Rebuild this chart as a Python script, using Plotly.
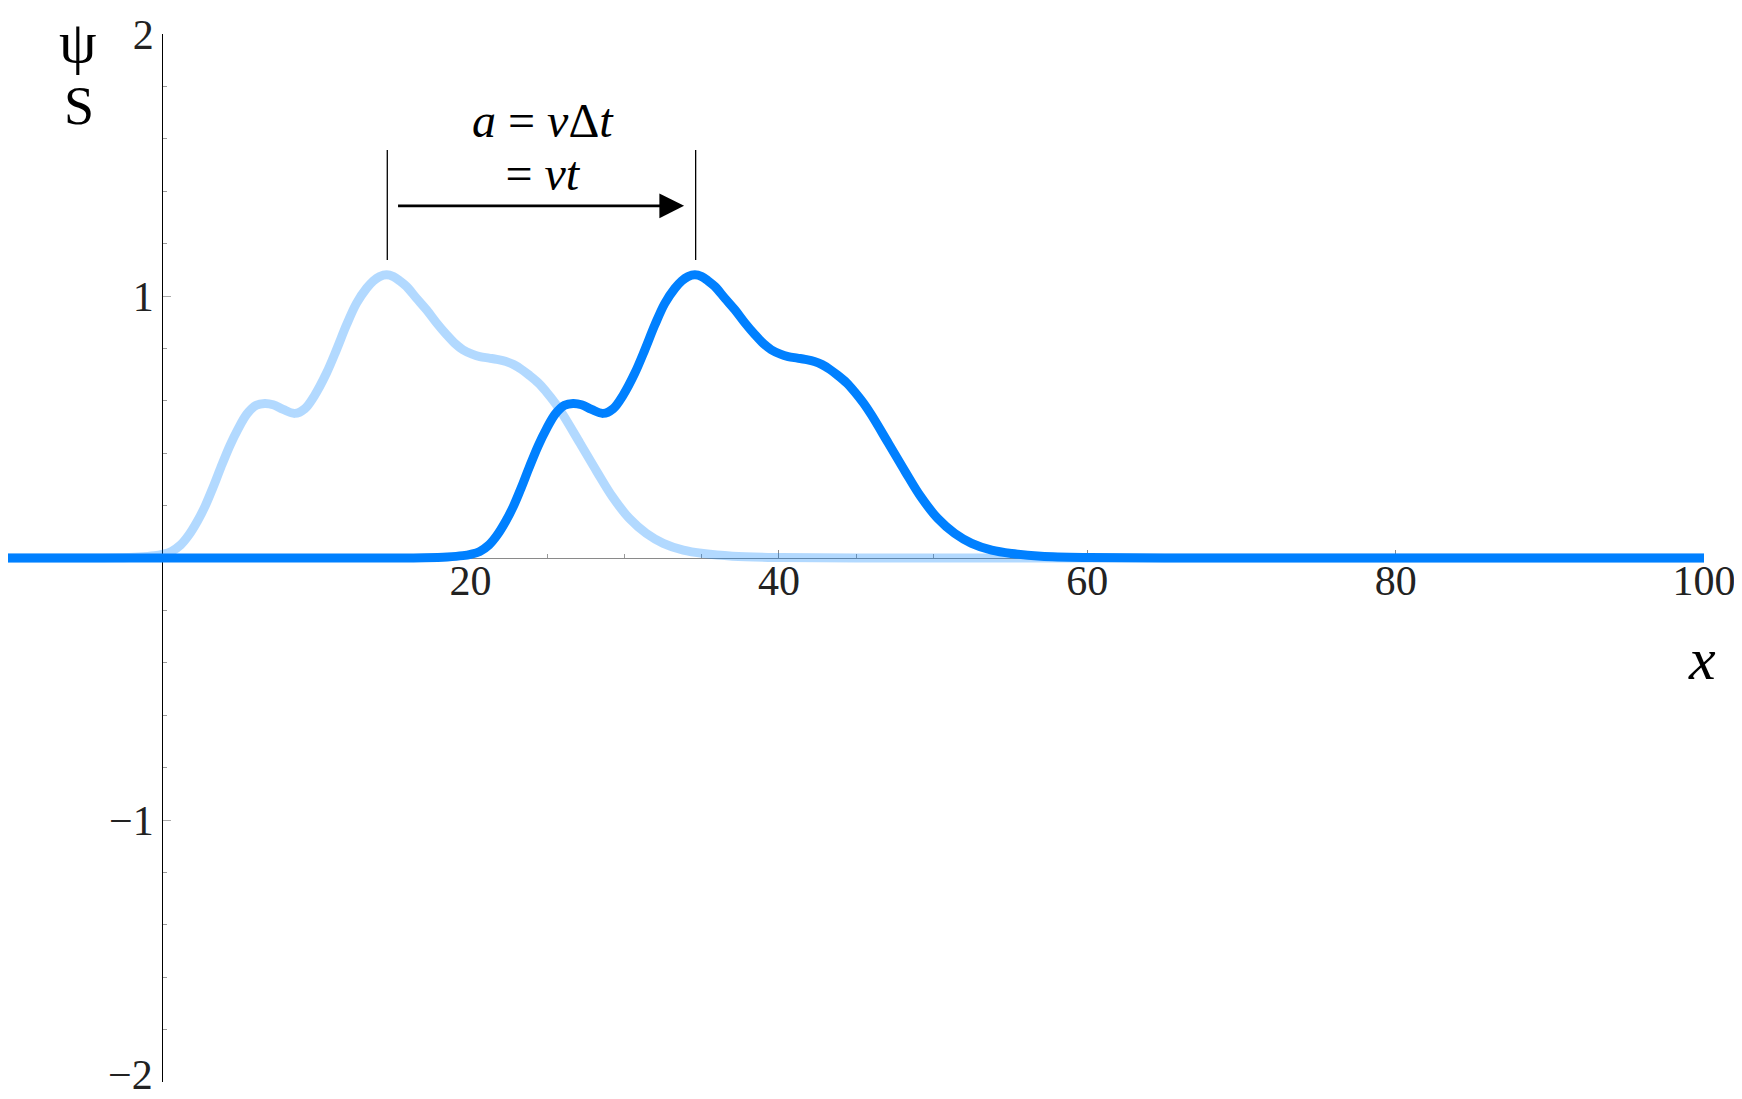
import plotly.graph_objects as go

# ---- data ----
# initial pulse (light curve)
x_initial = [-10, -6, -3, -1.5, -0.5, 0, 0.6, 1.2, 1.7, 2.3, 2.8, 3.3, 3.8, 4.4, 4.9, 5.5,
             6.1, 6.65, 7.2, 7.85, 8.6, 9.25, 9.9, 10.65, 11.3, 11.95, 12.6, 13.25, 13.7,
             14.1, 14.55, 15.0, 15.4, 15.85, 16.5, 17.15, 17.8, 18.45, 19.0, 19.5, 20.1,
             20.6, 21.2, 21.7, 22.3, 22.8, 23.3, 23.8, 24.4, 24.9, 25.5, 26.0, 27.1, 28.2,
             29.2, 30.3, 31.4, 32.5, 33.8, 35.1, 37, 40, 45, 60, 80, 100]
y_initial = [0, 0, 0.001, 0.004, 0.009, 0.014, 0.025, 0.05, 0.085, 0.142, 0.2, 0.27, 0.345,
             0.43, 0.49, 0.55, 0.583, 0.59, 0.585, 0.567, 0.552, 0.57, 0.622, 0.705, 0.794,
             0.889, 0.972, 1.029, 1.058, 1.074, 1.081, 1.074, 1.058, 1.036, 0.991, 0.947,
             0.897, 0.852, 0.818, 0.795, 0.778, 0.769, 0.763, 0.758, 0.75, 0.738, 0.72,
             0.698, 0.668, 0.635, 0.59, 0.546, 0.438, 0.329, 0.234, 0.151, 0.094, 0.056,
             0.03, 0.017, 0.007, 0.002, 0, 0, 0, 0]

# translated pulse (dark curve)
x_moved = [-10, 0, 10, 15, 17.0, 18.5, 19.5, 20.0, 20.6, 21.2, 21.7, 22.3, 22.8, 23.3,
           23.8, 24.4, 24.9, 25.5, 26.1, 26.65, 27.2, 27.85, 28.6, 29.25, 29.9, 30.65,
           31.3, 31.95, 32.6, 33.25, 33.7, 34.1, 34.55, 35.0, 35.4, 35.85, 36.5, 37.15,
           37.8, 38.45, 39.0, 39.5, 40.1, 40.6, 41.2, 41.7, 42.3, 42.8, 43.3, 43.8, 44.4,
           44.9, 45.5, 46.0, 47.1, 48.2, 49.2, 50.3, 51.4, 52.5, 53.8, 55.1, 57, 60, 65,
           80, 100]
y_moved = [0, 0, 0, 0, 0.001, 0.004, 0.009, 0.014, 0.025, 0.05, 0.085, 0.142, 0.2, 0.27,
           0.345, 0.43, 0.49, 0.55, 0.583, 0.59, 0.585, 0.567, 0.552, 0.57, 0.622, 0.705,
           0.794, 0.889, 0.972, 1.029, 1.058, 1.074, 1.081, 1.074, 1.058, 1.036, 0.991,
           0.947, 0.897, 0.852, 0.818, 0.795, 0.778, 0.769, 0.763, 0.758, 0.75, 0.738,
           0.72, 0.698, 0.668, 0.635, 0.59, 0.546, 0.438, 0.329, 0.234, 0.151, 0.094,
           0.056, 0.03, 0.017, 0.007, 0.002, 0, 0, 0]

x_tick_vals = [20, 40, 60, 80, 100]
x_tick_text = ["20", "40", "60", "80", "100"]
y_tick_vals = [-2, -1, 1, 2]
y_tick_text = ["\u22122", "\u22121", "1", "2"]

peak_positions = [14.6, 34.6]      # marker lines over the two peaks
marker_y_span = [1.137, 1.557]
arrow_x = [15.2, 33.85]
arrow_y = 1.344

X_RANGE = [-10, 100]
Y_RANGE = [-2, 2]

SERIF = "Liberation Serif, Times New Roman, serif"
BLUE = "rgb(0,128,255)"
LIGHT = "rgba(0,128,255,0.3)"

# page geometry (the html body has an 8px default margin, compensated here)
BODY = 8
W, H = 1742 - BODY, 1099 - BODY
ML, MR, MT, MB = 0, 38, 26, 17
pw, ph = W - ML - MR, H - MT - MB


def page_to_paper(px, py):
    return (px - BODY - ML) / pw, 1 - (py - BODY - MT) / ph


fig = go.Figure()
fig.add_trace(go.Scatter(x=x_initial, y=y_initial, mode="lines",
                         line=dict(color=LIGHT, width=9, shape="spline", smoothing=1.0),
                         hoverinfo="skip", showlegend=False))
fig.add_trace(go.Scatter(x=x_moved, y=y_moved, mode="lines",
                         line=dict(color=BLUE, width=9, shape="spline", smoothing=1.0),
                         hoverinfo="skip", showlegend=False))

# vertical marker lines
for px in peak_positions:
    fig.add_shape(type="line", xref="x", yref="y", x0=px, x1=px,
                  y0=marker_y_span[0], y1=marker_y_span[1],
                  line=dict(color="black", width=1.3))

# arrow
fig.add_annotation(x=arrow_x[1], y=arrow_y, ax=arrow_x[0], ay=arrow_y,
                   xref="x", yref="y", axref="x", ayref="y", text="",
                   showarrow=True, arrowhead=2, arrowsize=1.9, arrowwidth=2.6,
                   arrowcolor="black")

# two-line label over the arrow (line spacing from the base size, glyphs from the spans)
mid_x = (peak_positions[0] + peak_positions[1]) / 2
big = '<span style="font-size:48px">{}</span>'
label = (big.format("<i>a</i> = <i>v</i>\u0394<i>t</i>") + "<br>"
         + big.format("= <i>vt</i>"))
fig.add_annotation(x=mid_x + 0.1, y=1.568, xref="x", yref="y",
                   text=label, showarrow=False, align="center", borderpad=0,
                   font=dict(family=SERIF, size=41, color="black"))

# axis labels (page pixel positions)
psi_x, psi_y = page_to_paper(78, BODY)
fig.add_annotation(x=psi_x, y=psi_y, xref="paper", yref="paper", text="\u03c8",
                   showarrow=False, xanchor="center", yanchor="top", borderpad=0,
                   font=dict(family=SERIF, size=60, color="black"))
for txt, (px, py), size in [("S", (79, 106), 54),
                            ("<i>x</i>", (1702, 659), 60)]:
    ax_, ay_ = page_to_paper(px, py)
    fig.add_annotation(x=ax_, y=ay_, xref="paper", yref="paper", text=txt,
                       showarrow=False, xanchor="center", yanchor="middle",
                       font=dict(family=SERIF, size=size, color="black"))

# lowest y tick label sits at the page edge: drawn as an annotation so it stays visible
m2_x, m2_y = page_to_paper(154, 1099)
fig.add_annotation(x=m2_x, y=m2_y, xref="paper", yref="paper", text=y_tick_text[0],
                   showarrow=False, xanchor="right", yanchor="bottom", borderpad=0,
                   font=dict(family=SERIF, size=42, color="#222"))
y_axis_text = [""] + y_tick_text[1:]

fig.update_layout(
    width=W, height=H,
    margin=dict(l=ML, r=MR, t=MT, b=MB, pad=0),
    paper_bgcolor="white", plot_bgcolor="white",
    font=dict(family=SERIF, color="#222"),
    xaxis=dict(range=X_RANGE, anchor="free",
               position=(0 - Y_RANGE[0]) / (Y_RANGE[1] - Y_RANGE[0]),
               showgrid=False, zeroline=False, showline=True, linecolor="#8a8a8a", linewidth=1,
               tickmode="array", tickvals=x_tick_vals, ticktext=x_tick_text,
               ticks="inside", ticklen=8, tickwidth=1, tickcolor="#8a8a8a",
               ticklabelstandoff=-14,
               tickfont=dict(family=SERIF, size=42, color="#222"),
               minor=dict(ticks="inside", ticklen=4, tickwidth=1, tickcolor="#999",
                          dtick=5, tick0=0, showgrid=False),
               layer="below traces"),
    yaxis=dict(range=Y_RANGE, anchor="free",
               position=(0 - X_RANGE[0]) / (X_RANGE[1] - X_RANGE[0]),
               showgrid=False, zeroline=False, showline=True, linecolor="black", linewidth=1,
               tickmode="array", tickvals=y_tick_vals, ticktext=y_axis_text,
               ticks="inside", ticklen=8, tickwidth=1, tickcolor="#aaa",
               tickfont=dict(family=SERIF, size=42, color="#222"),
               minor=dict(ticks="inside", ticklen=4, tickwidth=1, tickcolor="#999",
                          dtick=0.2, tick0=0, showgrid=False),
               layer="below traces"),
)

fig.write_html("out.html")
